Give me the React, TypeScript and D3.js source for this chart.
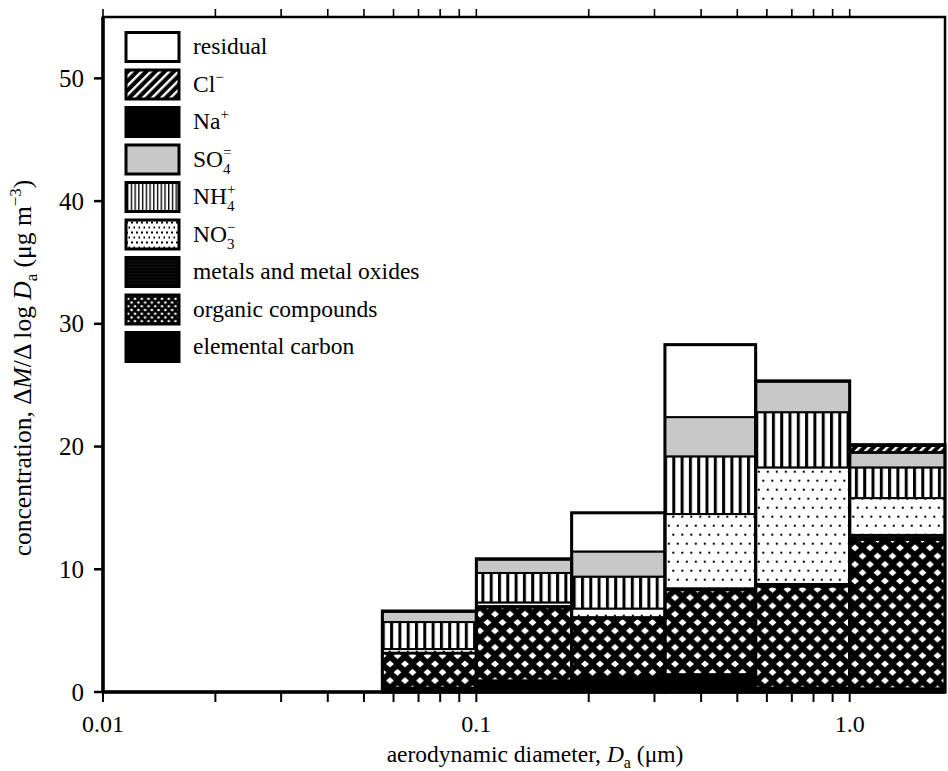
import * as d3 from "d3";

// size bins (MOUDI stage cut points, µm)
const binEdges = [0.056, 0.1, 0.18, 0.32, 0.56, 1.0, 1.8];

// mass per bin, stacked bottom -> top
const elementalCarbon = [0.35, 0.95, 1.2, 1.45, 0.35, 0.3];
const organics = [2.8, 5.95, 4.8, 6.85, 8.25, 12.1];
const metals = [0.05, 0.1, 0.1, 0.15, 0.2, 0.4];
const nitrate = [0.3, 0.3, 0.7, 6.05, 9.5, 3.0];
const ammonium = [2.2, 2.4, 2.6, 4.7, 4.5, 2.5];
const sulfate = [0.85, 1.1, 2.05, 3.2, 2.5, 1.2];
const sodium = [0, 0, 0, 0, 0, 0.05];
const chloride = [0, 0, 0, 0, 0, 0.5];
const residual = [0.05, 0.05, 3.15, 5.9, 0.05, 0.1];

const stackKeys = ["ec", "oc", "metals", "no3", "nh4", "so4", "na", "cl", "residual"];
const seriesByKey: Record<string, number[]> = {
  ec: elementalCarbon,
  oc: organics,
  metals,
  no3: nitrate,
  nh4: ammonium,
  so4: sulfate,
  na: sodium,
  cl: chloride,
  residual,
};

// legend order, top -> bottom
const legendKeys = ["residual", "cl", "na", "so4", "nh4", "no3", "metals", "oc", "ec"];

const yTicks = [0, 10, 20, 30, 40, 50];
const xLabelTicks = [
  { v: 0.01, label: "0.01" },
  { v: 0.1, label: "0.1" },
  { v: 1.0, label: "1.0" },
];

const W = 948;
const H = 771;
const M = { left: 103, right: 945, top: 17, bottom: 692 };
const FONT = "'Liberation Serif', 'Times New Roman', serif";

const x = d3.scaleLog().domain([0.01, 1.8]).range([M.left, M.right]);
const y = d3.scaleLinear().domain([0, 55]).range([M.bottom, M.top]);

// minor log ticks 0.01..1.0
const logTicks: number[] = [];
for (const dec of [0.01, 0.1]) for (let k = 1; k <= 9; k++) logTicks.push(+(dec * k).toPrecision(3));
logTicks.push(1.0);

function Patterns({ sfx, s }: { sfx: string; s: number }) {
  const ocW = 15 * s;
  const ocH = 16.6 * s;
  const hw = 4 * s;
  const hh = 3.3 * s;
  const diamond = (cx: number, cy: number) =>
    `M${cx - hw},${cy} L${cx},${cy - hh} L${cx + hw},${cy} L${cx},${cy + hh} Z`;
  const dot = Math.max(2, 2 * s);
  const noW = Math.max(5, 9 * s);
  return (
    <>
      <pattern id={`cl${sfx}`} patternUnits="userSpaceOnUse" width={6.5} height={6.5} patternTransform="rotate(45)">
        <rect width={6.5} height={6.5} fill="#000" />
        <rect x={0} width={2.4} height={6.5} fill="#fff" />
      </pattern>
      <pattern id={`nh4${sfx}`} patternUnits="userSpaceOnUse" width={8.3 * s} height={10}>
        <rect width={8.3 * s} height={10} fill="#fff" />
        <rect x={0} width={3 * s} height={10} fill="#000" />
      </pattern>
      <pattern id={`no3${sfx}`} patternUnits="userSpaceOnUse" width={noW} height={noW * 2}>
        <rect width={noW} height={noW * 2} fill="#fff" />
        <rect x={noW * 0.2} y={noW * 0.3} width={dot} height={dot} fill="#000" />
        <rect x={noW * 0.7} y={noW * 1.3} width={dot} height={dot} fill="#000" />
      </pattern>
      <pattern id={`metals${sfx}`} patternUnits="userSpaceOnUse" width={10} height={3.2}>
        <rect width={10} height={3.2} fill="#000" />
        <rect y={1.4} width={10} height={0.5} fill="#2a2a2a" />
      </pattern>
      <pattern id={`oc${sfx}`} patternUnits="userSpaceOnUse" width={ocW} height={ocH}>
        <rect width={ocW} height={ocH} fill="#000" />
        <path
          fill="#fff"
          d={[diamond(0, 0), diamond(ocW, 0), diamond(0, ocH), diamond(ocW, ocH), diamond(ocW / 2, ocH / 2)].join(" ")}
        />
      </pattern>
    </>
  );
}

const fillFor = (key: string, sfx: string) => {
  if (key === "residual") return "#fff";
  if (key === "na" || key === "ec") return "#000";
  if (key === "so4") return "#c8c8c8";
  return `url(#${key}${sfx})`;
};

const LFS = 23.5; // legend font size
const SFS = 15; // script font size

function LegendLabel({ k, tx, ty }: { k: string; tx: number; ty: number }) {
  const common = { y: ty, fontFamily: FONT, fontSize: LFS, fill: "#000" };
  const withScripts = (base: string, baseW: number, sup: string, sub?: string) => (
    <g>
      <text x={tx} {...common}>{base}</text>
      <text x={tx + baseW} y={ty - 10} fontFamily={FONT} fontSize={SFS}>{sup}</text>
      {sub && (
        <text x={tx + baseW} y={ty + 7} fontFamily={FONT} fontSize={SFS}>{sub}</text>
      )}
    </g>
  );
  switch (k) {
    case "residual":
      return <text x={tx} {...common}>residual</text>;
    case "cl":
      return withScripts("Cl", 0.945 * LFS, "−");
    case "na":
      return withScripts("Na", 1.166 * LFS, "+");
    case "so4":
      return withScripts("SO", 1.278 * LFS, "=", "4");
    case "nh4":
      return withScripts("NH", 1.444 * LFS, "+", "4");
    case "no3":
      return withScripts("NO", 1.444 * LFS, "−", "3");
    case "metals":
      return <text x={tx} {...common}>metals and metal oxides</text>;
    case "oc":
      return <text x={tx} {...common}>organic compounds</text>;
    default:
      return <text x={tx} {...common}>elemental carbon</text>;
  }
}

export default function App() {
  const rows = binEdges.slice(0, -1).map((lo, i) => {
    const r: Record<string, number> = { lo, hi: binEdges[i + 1] };
    stackKeys.forEach((k) => (r[k] = seriesByKey[k][i]));
    return r;
  });
  const stacked = d3.stack<Record<string, number>>().keys(stackKeys)(rows);
  const totals = rows.map((r) => d3.sum(stackKeys, (k) => r[k]));

  return (
    <svg
      width={W}
      height={H}
      style={{ position: "absolute", left: 0, top: 0, background: "#fff" }}
    >
      <defs>
        <Patterns sfx="" s={1} />
        <Patterns sfx="L" s={0.45} />
      </defs>

      {/* stacked bars */}
      {stacked.map((layer) =>
        layer.map((d, i) => {
          if (d[1] - d[0] < 0.01) return null;
          const x0 = x(rows[i].lo);
          const x1 = x(rows[i].hi);
          return (
            <rect
              key={`${layer.key}-${i}`}
              x={x0}
              y={y(d[1])}
              width={x1 - x0}
              height={y(d[0]) - y(d[1])}
              fill={fillFor(layer.key, "")}
              stroke="#000"
              strokeWidth={2}
            />
          );
        })
      )}
      {rows.map((r, i) => (
        <rect
          key={`outline-${i}`}
          x={x(r.lo)}
          y={y(totals[i])}
          width={x(r.hi) - x(r.lo)}
          height={y(0) - y(totals[i])}
          fill="none"
          stroke="#000"
          strokeWidth={3}
        />
      ))}

      {/* frame */}
      <rect
        x={M.left}
        y={M.top}
        width={M.right - M.left}
        height={M.bottom - M.top}
        fill="none"
        stroke="#000"
        strokeWidth={2.5}
      />
      <line x1={M.left} x2={M.left} y1={M.top} y2={M.bottom} stroke="#000" strokeWidth={3.5} />
      <line x1={M.left} x2={M.right} y1={M.bottom} y2={M.bottom} stroke="#000" strokeWidth={3.5} />

      {/* x ticks, bottom and top */}
      {logTicks.map((t) => (
        <g key={`xt-${t}`}>
          <line x1={x(t)} x2={x(t)} y1={M.bottom} y2={M.bottom + 10} stroke="#000" strokeWidth={2} />
          <line x1={x(t)} x2={x(t)} y1={M.top} y2={M.top - 8} stroke="#000" strokeWidth={1.6} />
        </g>
      ))}
      {xLabelTicks.map((t) => (
        <text
          key={`xl-${t.label}`}
          x={x(t.v)}
          y={732}
          textAnchor="middle"
          fontFamily={FONT}
          fontSize={24}
        >
          {t.label}
        </text>
      ))}

      {/* y ticks */}
      {yTicks.map((t) => (
        <g key={`yt-${t}`}>
          <line x1={M.left - 9} x2={M.left} y1={y(t)} y2={y(t)} stroke="#000" strokeWidth={2.5} />
          <text x={M.left - 19} y={y(t) + 8.5} textAnchor="end" fontFamily={FONT} fontSize={25}>
            {t}
          </text>
        </g>
      ))}

      {/* axis titles */}
      <text x={535} y={762} textAnchor="middle" fontFamily={FONT} fontSize={23.5}>
        aerodynamic diameter, <tspan fontStyle="italic">D</tspan>
        <tspan fontSize={16} dy={6}>a</tspan>
        <tspan dy={-6}> (μm)</tspan>
      </text>
      <text
        transform="translate(31,368) rotate(-90)"
        textAnchor="middle"
        fontFamily={FONT}
        fontSize={25.5}
      >
        concentration, Δ<tspan fontStyle="italic">M</tspan>/Δ log <tspan fontStyle="italic">D</tspan>
        <tspan fontSize={17} dy={6}>a</tspan>
        <tspan dy={-6}> (μg m</tspan>
        <tspan fontSize={17} dy={-10}>−3</tspan>
        <tspan dy={10}>)</tspan>
      </text>

      {/* legend */}
      {legendKeys.map((k, i) => {
        const cy = 47 + i * 37.5;
        return (
          <g key={`lg-${k}`}>
            <rect
              x={126}
              y={cy - 14.5}
              width={53}
              height={29}
              fill={fillFor(k, "L")}
              stroke="#000"
              strokeWidth={3}
            />
            <LegendLabel k={k} tx={193} ty={cy + 7} />
          </g>
        );
      })}
    </svg>
  );
}
